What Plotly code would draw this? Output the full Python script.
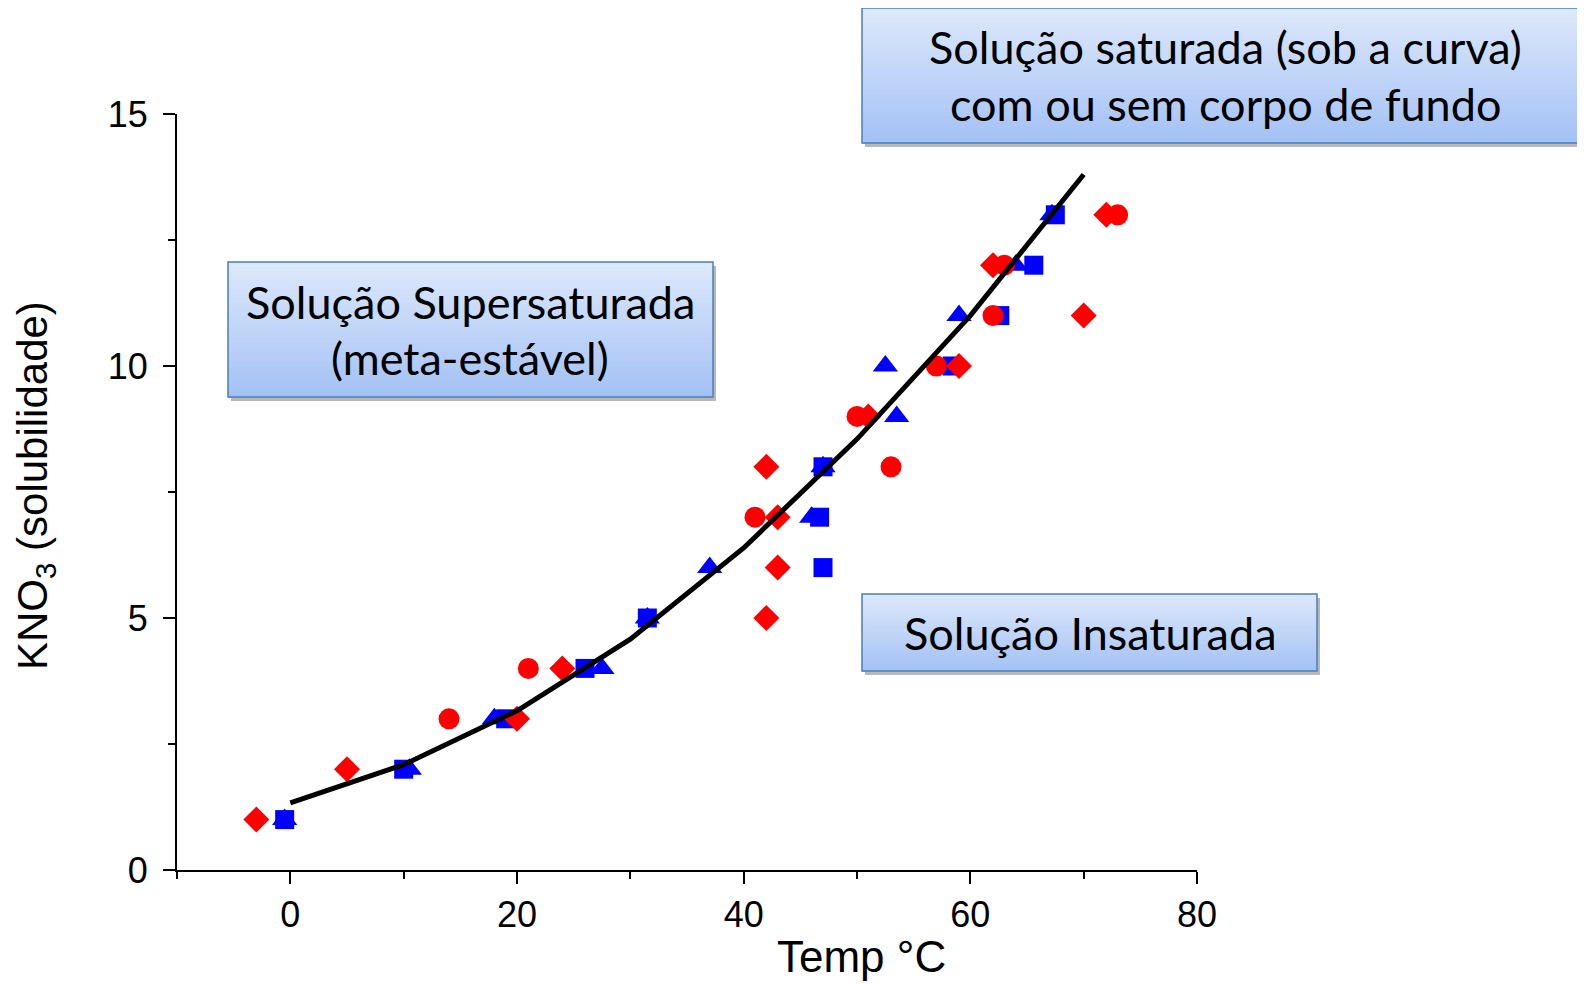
import plotly.graph_objects as go

# ---------------- data ----------------
curve_t = [0, 10, 20, 30, 40, 50, 60, 70]
curve_s = [1.33, 2.09, 3.16, 4.58, 6.39, 8.55, 11.0, 13.8]

tri_t = [-0.5, 10.5, 18, 27.5, 31.5, 37, 46, 47, 53.5, 52.5, 59, 64, 67.2]
tri_s = [1, 2, 3, 4, 5, 6, 7, 8, 9, 10, 11, 12, 13]

sq_t = [-0.5, 10, 19, 26, 31.5, 47, 46.7, 47, 58.4, 62.6, 65.6, 67.5]
sq_s = [1, 2, 3, 4, 5, 6, 7, 8, 10, 11, 12, 13]

circ_t = [14, 21, 41, 53, 50, 57, 62, 63, 73]
circ_s = [3, 4, 7, 8, 9, 10, 11, 12, 13]

dia_t = [-3, 5, 20, 24, 42, 43, 43, 42, 51, 59, 70, 62, 72]
dia_s = [1, 2, 3, 4, 5, 6, 7, 8, 9, 10, 11, 12, 13]

x_ticks = [0, 20, 40, 60, 80]
y_ticks = [0, 5, 10, 15]

box_texts = [
    ["Solução saturada (sob a curva)", "com ou sem corpo de fundo"],
    ["Solução Supersaturada", "(meta-estável)"],
    ["Solução Insaturada"],
]

# ---------------- layout helpers ----------------
# page has an 8px body margin, so the figure is drawn 8px smaller
OFF = 8
W, H = 1585 - OFF, 985 - OFF
PX0, PX1 = 177, 1197      # page x of plot area
PY0, PY1 = 114, 870       # page y of plot area (top, bottom)
ML, MT = PX0 - OFF, PY0 - OFF
PW, PH = PX1 - PX0, PY1 - PY0
MR, MB = W - ML - PW, H - MT - PH


def px(x):
    return (x - PX0) / PW


def py(y):
    return (PY1 - y) / PH


fig = go.Figure()

fig.add_trace(go.Scatter(x=tri_t, y=tri_s, mode="markers",
                         marker=dict(symbol="triangle-up", size=22, color="#0000ff", line=dict(width=0))))
fig.add_trace(go.Scatter(x=sq_t, y=sq_s, mode="markers",
                         marker=dict(symbol="square", size=19, color="#0000ff", line=dict(width=0))))
fig.add_trace(go.Scatter(x=circ_t, y=circ_s, mode="markers",
                         marker=dict(symbol="circle", size=21, color="#ff0000", line=dict(width=0))))
fig.add_trace(go.Scatter(x=dia_t, y=dia_s, mode="markers",
                         marker=dict(symbol="diamond", size=20, color="#ff0000", line=dict(width=0))))
fig.add_trace(go.Scatter(x=curve_t, y=curve_s, mode="lines",
                         line=dict(color="black", width=5)))

# ---------------- boxes with gradient ----------------
boxes = [
    dict(x0=862, x1=1600, y0=8, y1=143, cx=1225, lines=[47, 104]),
    dict(x0=228, x1=713, y0=262, y1=397, cx=470, lines=[302, 358]),
    dict(x0=862, x1=1317, y0=594, y1=671, cx=1090, lines=[633]),
]

top_rgb = (222, 233, 251)
bot_rgb = (163, 193, 245)
shapes = []
annotations = []
NSTRIPES = 30
for b, texts in zip(boxes, box_texts):
    # shadow
    shapes.append(dict(type="rect", xref="paper", yref="paper",
                       x0=px(b["x0"] + 3), x1=px(b["x1"] + 3),
                       y0=py(b["y1"] + 4), y1=py(b["y0"] + 4),
                       fillcolor="rgba(0,0,0,0.28)", line=dict(width=0), layer="above"))
    h = (b["y1"] - b["y0"]) / NSTRIPES
    for i in range(NSTRIPES):
        t = (i + 0.5) / NSTRIPES
        c = tuple(int(round(top_rgb[k] + (bot_rgb[k] - top_rgb[k]) * t)) for k in range(3))
        shapes.append(dict(type="rect", xref="paper", yref="paper",
                           x0=px(b["x0"]), x1=px(b["x1"]),
                           y0=py(b["y0"] + (i + 1) * h + 0.5), y1=py(b["y0"] + i * h),
                           fillcolor="rgb(%d,%d,%d)" % c, line=dict(width=0), layer="above"))
    shapes.append(dict(type="rect", xref="paper", yref="paper",
                       x0=px(b["x0"]), x1=px(b["x1"]),
                       y0=py(b["y1"]), y1=py(b["y0"]),
                       fillcolor="rgba(0,0,0,0)", line=dict(color="#4a7ebb", width=1.5), layer="above"))
    for txt, ly in zip(texts, b["lines"]):
        annotations.append(dict(text=txt, xref="paper", yref="paper",
                                x=px(b["cx"]), y=py(ly), xanchor="center", yanchor="middle",
                                showarrow=False,
                                font=dict(family="Lato", size=45, color="black")))

# axis titles as annotations
annotations.append(dict(text="Temp °C", xref="paper", yref="paper",
                        x=px(861), y=py(956), xanchor="center", yanchor="middle", showarrow=False,
                        font=dict(family="Liberation Sans", size=44, color="black")))
annotations.append(dict(text="KNO<sub>3</sub> (solubilidade)", xref="paper", yref="paper",
                        x=px(35), y=py(486), xanchor="center", yanchor="middle", showarrow=False,
                        textangle=-90,
                        font=dict(family="Liberation Sans", size=42, color="black")))

fig.update_layout(
    width=W, height=H,
    margin=dict(l=ML, r=MR, t=MT, b=MB, pad=0),
    paper_bgcolor="white", plot_bgcolor="white",
    showlegend=False,
    shapes=shapes, annotations=annotations,
    xaxis=dict(range=[-10, 80], tickvals=x_ticks, showgrid=False, zeroline=False,
               showline=True, linecolor="black", linewidth=2,
               ticks="outside", ticklen=12, tickwidth=2, tickcolor="black",
               ticklabelstandoff=0,
               minor=dict(ticks="outside", ticklen=7, tickwidth=2, tickcolor="black",
                          tickvals=[-10, 10, 30, 50, 70], showgrid=False),
               tickfont=dict(family="Liberation Sans", size=36, color="black")),
    yaxis=dict(range=[0, 15], tickvals=y_ticks, showgrid=False, zeroline=False,
               showline=True, linecolor="black", linewidth=2,
               ticks="outside", ticklen=12, tickwidth=2, tickcolor="black",
               ticklabelstandoff=8,
               minor=dict(ticks="outside", ticklen=7, tickwidth=2, tickcolor="black",
                          tickvals=[2.5, 7.5, 12.5], showgrid=False),
               tickfont=dict(family="Liberation Sans", size=36, color="black")),
)

fig.write_html("out.html")
